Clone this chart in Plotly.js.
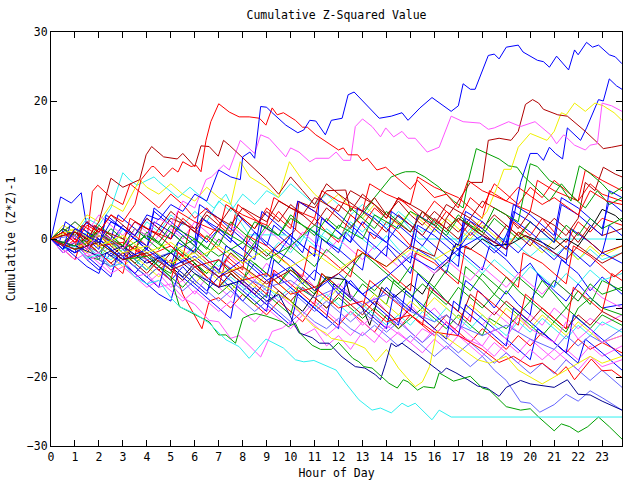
<!DOCTYPE html>
<html><head><meta charset="utf-8">
<script src="https://cdn.plot.ly/plotly-3.0.1.min.js"></script>
<style>html,body{margin:0;padding:0;background:#fff}#chart{width:640px;height:480px}</style>
</head><body><div id="chart"></div>
<script>
// ---- data: [hour, cumulative (Z*Z)-1] ----
const lineA = [[0,0],[0.5,-1.5],[1,1.5],[1.5,0.5],[2,-0.5],[2.5,2.5],[3,1.5],[3.5,0.5],[4,3.5],[4.5,2.8],[5,5],[5.5,4],[6,6.5],[6.5,5.5],[7,10],[7.5,9],[7.9,8.6],[8.0,11.9],[8.3,12.6],[8.5,11.7],[8.75,19.2],[9.0,19.1],[9.2,18.4],[9.8,16.5],[10.3,15.4],[10.55,15.8],[10.8,17.2],[11.05,17.1],[11.45,15.1],[11.7,17.2],[12.15,17.5],[12.4,20.9],[12.65,21.3],[13.7,17.5],[14.2,17.8],[14.65,18.3],[14.9,17.2],[15.4,19.0],[15.9,20.5],[16.7,18.5],[17.0,19.3],[17.2,22.5],[17.5,21.7],[17.7,21.7],[18.25,26.6],[18.5,26.8],[18.7,26.1],[19.0,27.8],[19.5,28.1],[19.7,27.1],[20.3,25.9],[20.55,25.7],[20.8,24.9],[21.1,26.5],[21.6,24.5],[21.85,27.4],[22.0,26.7],[22.35,28.5],[22.6,27.8],[22.85,28.1],[23.3,26.7],[23.55,26.4],[23.83,25.4]];
const lineB = [[0,0],[0.5,1],[1,-0.5],[1.5,2],[2,1],[2.5,3.5],[3,2.5],[3.5,5],[3.76,8.6],[4.2,10.5],[4.3,10.5],[4.7,9.0],[5.07,10.3],[5.3,9.7],[5.5,11.2],[5.85,10.5],[6.05,10.7],[6.26,9.75],[6.47,14.3],[6.67,17.0],[7.0,19.6],[7.44,18.4],[7.85,17.7],[8.27,17.7],[8.7,17.5],[8.97,16.5],[9.23,19.0],[9.44,18.0],[9.7,18.3],[10.2,17.2],[10.5,16.2],[10.7,16.2],[11.05,15.1],[11.7,13.6],[12.0,12.9],[12.2,13.2],[12.4,12.2],[12.8,12.2],[13.0,11.3],[13.2,11.7],[13.6,10.0],[13.97,10.4],[14.4,9.0],[15.0,7.2],[15.3,8.5],[16.0,6.0],[16.5,6.5],[17.0,4.5],[17.4,8.5],[18.0,7.0],[19,5.5],[19.5,7.5],[20.5,5],[21,6],[22,3.5],[22.5,7],[23.2,5.5],[23.83,5]];
const lineC = [[0,0],[0.5,-1],[1,1],[1.5,0],[2,2.5],[2.5,8.8],[3,7.5],[3.7,8.6],[3.97,12.2],[4.2,13.4],[4.7,11.9],[5.07,11.7],[5.27,11.6],[5.5,12.4],[6.0,10.5],[6.26,13.5],[6.6,13.4],[6.98,12.0],[7.2,14.3],[7.44,13.6],[8.97,8.6],[9.5,6.5],[10,9],[10.5,7],[11,5],[11.5,8],[12,6.5],[13,4],[13.5,6],[14,3.5],[15,1],[15.5,4],[16.5,1.5],[17,3],[18,0.5],[19,-1.5],[19.5,1],[20.5,-1],[21.5,-3],[22,-1],[23,-3.5],[23.83,-2]];
const lineD = [[0,0],[0.5,-1],[1,0.5],[1.5,-1.5],[2,1],[2.5,0],[3,-1.5],[3.5,1.5],[4,0.5],[4.5,3],[5,2],[5.5,5.5],[6,4.5],[6.47,8.6],[6.7,9.0],[7.2,10.7],[7.44,10.0],[7.9,14.3],[8.5,12.4],[8.75,15.1],[9.1,14.6],[9.8,11.9],[10.0,13.2],[10.35,12.6],[10.8,11.2],[11.05,11.7],[11.6,11.7],[11.9,12.6],[12.2,11.4],[12.5,11.4],[12.7,16.3],[13.0,17.4],[13.4,16.3],[13.75,14.8],[13.97,16.1],[14.3,14.8],[14.65,15.6],[14.9,14.6],[15.2,14.6],[15.7,12.6],[16.2,13.3],[16.7,17.8],[17.2,17.0],[17.9,16.8],[18.25,15.9],[18.5,16.1],[19.1,17.0],[19.6,16.3],[20.2,17.0],[20.85,15.1],[21.1,13.8],[21.4,15.1],[21.85,13.6],[22.3,12.9],[22.5,13.6],[22.8,13.8],[23.0,19.7],[23.4,19.3],[23.83,18.5]];
const lineE = [[0,0],[1,-1.5],[2,-0.5],[3,-3],[4,-2],[5,-4.5],[6,-3],[7,-5.5],[8,-4],[9,-6.5],[10,-4.5],[11,-7],[12,-5],[13,-2],[14,-4],[15,-1],[16,-2.5],[16.5,3],[17.0,5.5],[17.5,8.2],[18.0,8.2],[18.25,14.3],[18.7,14.6],[19.2,14.3],[19.5,15.6],[19.8,19.5],[20.1,20.2],[20.35,19.7],[20.55,18.8],[20.8,18.5],[21.15,18.0],[21.55,17.8],[22.0,16.5],[22.3,15.6],[22.7,14.3],[23.05,13.1],[23.4,13.3],[23.83,13.6]];
const lineF = [[0,0],[1,1.5],[2,-1],[3,0.5],[4,-2],[5,-0.5],[6,-3],[7,-1],[8,-3.5],[9,-1.5],[10,-4],[11,-2],[12,-4.5],[13,-2],[14,-4],[15,-1.5],[16,-3],[17,-1],[17.5,1],[18.2,4],[18.7,8.2],[18.9,10.1],[19.2,10.1],[19.5,13.3],[20.0,15.3],[20.7,14.3],[21.0,15.6],[21.3,18.3],[21.5,18.0],[21.85,19.7],[22.3,18.5],[22.7,19.7],[23.05,19.3],[23.5,18.3],[23.83,17.2]];
const lineG = [[0,0],[1,-2],[2,0],[3,-3],[4,-1.5],[5,-4],[6,-2.5],[7,-5.5],[8,-3],[9,-6],[10,-4],[11,-7.5],[12,-5],[13,-8],[14,-5.5],[15,-2.5],[16,-4.5],[17,-1.5],[18,0.5],[18.8,-1],[19.3,3],[19.6,8.2],[20.0,12.4],[20.3,12.4],[20.55,11.4],[20.8,13.3],[21.05,12.4],[21.35,11.6],[21.55,16.1],[21.85,15.1],[22.1,14.3],[22.35,16.1],[22.85,20.2],[23.05,20.0],[23.3,23.2],[23.6,22.2],[23.83,21.7]];
const lineH = [[0,0],[1,-1],[2,1],[3,-1.5],[4,0.5],[5,-2],[6,0],[7,-2.5],[8,-0.5],[9,-3],[10,-1],[11,2],[12,0],[13,3.5],[13.5,6],[14.2,9],[14.65,9.6],[14.8,9.75],[15.2,9.75],[15.6,9.0],[16.2,7.5],[16.8,5.5],[17.2,4.5],[17.4,8.2],[17.75,13.1],[18.2,12.4],[18.7,11.6],[19.1,10.6],[19.45,10.4],[19.7,9.2],[20.2,7.5],[20.8,5.5],[21.3,8],[21.8,6],[22.3,4.5],[22.8,7],[23.3,5],[23.83,6]];
const lineI = [[0,0],[0.5,1.5],[1,0.5],[1.5,-1],[2,1],[3,-1],[3.5,1.5],[4.5,-0.5],[5,2],[6,0],[6.5,-1.5],[7,1.5],[8,-0.5],[8.5,2.5],[9.5,0.5],[10,3],[11,1],[11.5,-0.5],[12,2],[13,0],[13.5,3.5],[14.5,1.5],[15,4],[16,2],[16.5,0.5],[17,3],[18,1],[18.5,4.5],[19.5,2.5],[20,10.9],[20.3,10.5],[20.8,8.5],[21.3,7.5],[21.7,5.5],[22.05,10.6],[22.5,9.5],[23,8],[23.4,6.5],[23.83,7.5]];
const lineJ = [[0,0],[0.5,-1.5],[1,-1],[1.5,-2.8],[2,-2.2],[2.5,-4],[3,-3.5],[3.5,-5.5],[4,-6.5],[4.5,-6],[5,-8.5],[5.36,-9.8],[6.0,-10.8],[6.6,-12.2],[7.3,-14.6],[7.85,-15.6],[8.27,-17.3],[8.97,-14.5],[9.7,-15.8],[10.2,-17.5],[10.55,-17.8],[10.97,-17.6],[11.9,-19.0],[12.3,-20.9],[12.85,-23.3],[13.4,-24.8],[13.75,-24.5],[14.2,-25.2],[14.65,-23.8],[14.9,-24.3],[15.2,-23.8],[15.9,-26.2],[16.2,-24.8],[16.7,-25.8],[23.83,-25.8]];
const lineK = [[0,0],[1,-1.5],[2,-0.5],[3,-3],[4,-2.5],[5,-5.5],[5.36,-9.8],[6.6,-12.0],[7.0,-13.9],[7.3,-13.9],[7.7,-15.1],[8.0,-11.5],[8.3,-11.0],[8.55,-10.8],[9.0,-11.2],[9.65,-12.0],[9.9,-12.7],[10.2,-12.2],[10.4,-13.7],[10.9,-15.4],[11.25,-16.0],[11.7,-16.0],[12.0,-15.0],[12.6,-17.3],[12.85,-17.8],[13.06,-18.5],[13.4,-18.7],[13.7,-19.7],[14.1,-20.9],[14.45,-21.6],[14.7,-20.4],[14.9,-20.7],[15.3,-21.9],[15.55,-21.4],[16.0,-21.6],[16.2,-19.4],[16.8,-20.6],[17.5,-19.9],[18.0,-21.6],[18.3,-21.9],[19.0,-24.3],[19.6,-24.8],[20.0,-24.6],[20.35,-25.8],[21.0,-27.8],[21.3,-26.8],[21.65,-27.2],[22.0,-28.0],[22.4,-27.2],[22.85,-25.8],[23.3,-27.2],[23.83,-29.0]];
const lineL = [[0,0],[1,-1],[2,-2.5],[3,-1],[4,-3.5],[5,-2],[6,-5],[7,-7],[8,-6],[9,-9],[9.5,-8],[10.35,-13.6],[10.9,-14.3],[11.2,-15.1],[11.6,-15.1],[12.15,-17.1],[12.7,-18.5],[13.1,-18.7],[13.55,-19.7],[13.75,-20.4],[13.97,-18.0],[14.2,-15.1],[14.4,-15.6],[14.65,-15.1],[15.2,-16.5],[15.5,-17.3],[16.3,-19.4],[16.5,-18.7],[16.9,-19.4],[17.4,-20.4],[17.8,-21.3],[18.2,-21.6],[18.7,-22.8],[19.0,-21.5],[19.6,-20.5],[20,-21],[21,-21.5],[21.55,-20.4],[22,-22.5],[22.5,-22.6],[23,-23.5],[23.83,-24.8]];
const lineM = [[0,0],[1,-1.5],[2,0.5],[3,-2],[4,-1],[5,-3.5],[6,-2],[7,-5],[8,-4],[9,-7],[10,-9],[10.5,-11],[10.97,-12.7],[11.45,-13.6],[11.7,-14.4],[12.0,-14.6],[12.65,-15.1],[13.1,-15.8],[13.55,-17.8],[14.0,-16.0],[14.5,-18.7],[14.85,-20.1],[15.2,-21.4],[15.5,-20.7],[15.8,-18.5],[16.1,-13.3],[16.6,-14.5],[17.2,-16],[17.8,-17.5],[18.3,-18],[19,-17],[19.5,-19],[20,-20],[20.5,-21],[21,-20],[21.5,-19],[22,-18],[22.5,-17],[23,-18],[23.83,-17]];
const lineN = [[0,0],[1,1],[2,-1],[3,-0.5],[4,-2.5],[5,-1],[6,-4],[7,-3],[8,-6],[9,-5],[10,-8],[11,-7],[12,-10],[13,-9],[14,-12],[15,-11],[16,-13.5],[17,-14],[18,-16],[18.7,-17.9],[19.3,-17],[20,-18.5],[20.5,-18],[21.15,-19.7],[21.5,-18.5],[21.85,-20.4],[22.55,-17.4],[23.0,-19.1],[23.4,-19],[23.83,-20.1]];
const lineP = [[0,0],[0.5,-1],[1,-0.5],[1.5,-2.5],[2,-2],[2.5,-4],[3,-3.5],[3.5,-5.5],[4,-5],[4.5,-7],[5,-6.5],[5.5,-8.5],[6,-9.5],[6.6,-11.8],[7.0,-12.0],[7.5,-14.4],[7.85,-14],[8.75,-17.1],[9.23,-13.4],[9.65,-12.9],[10,-12],[10.5,-14],[11,-13],[11.5,-15.5],[12,-14],[12.5,-16],[13,-13.5],[13.5,-15],[14,-12.5],[15,-15],[15.5,-13],[16,-14],[16.5,-12],[17,-14],[18,-15.5],[18.5,-13],[19,-14.5],[19.5,-11],[20,-13],[21,-15],[21.5,-12],[22,-14.5],[22.5,-13],[23,-15],[23.83,-14]];
const lineQ = [[0,0],[1,1],[1.5,-0.5],[2,1.5],[3,0],[3.5,2.5],[4.5,0.5],[5,3],[6,1.5],[6.5,4],[7.5,2],[8,4.5],[9,2.5],[9.5,5.5],[10.5,3.5],[11,6],[12,4],[12.5,7],[13.5,5],[14,3],[14.5,6],[15.5,4],[16,2],[16.5,5],[17.5,3],[18,5.5],[19,3.5],[19.5,1.5],[20,4],[21,2],[21.5,0.5],[22,3],[22.3,8.2],[22.7,7],[23.05,10.4],[23.55,9.4],[23.83,9]];
const lineR = [[0,0],[0.5,-1],[1,-2],[1.5,-1],[2,-3],[2.5,-4],[3,-2.5],[3.5,-4],[4,-5.5],[4.5,-4],[5,-6],[5.5,-7.5],[6,-6],[6.5,-7.5],[7,-9],[7.5,-7.5],[8,-9],[8.5,-10.5],[9,-9],[9.5,-10.5],[10,-12],[10.5,-10.5],[11,-12],[11.5,-13],[12,-11.5],[12.5,-13],[13,-14],[13.5,-12.5],[14,-14],[14.5,-15.5],[15,-14],[15.5,-15.5],[16,-17],[16.5,-15.5],[17,-17],[17.5,-18.5],[18,-17],[18.5,-19],[19,-20.5],[19.6,-23.6],[20,-23.8],[20.4,-25.1],[21,-24],[21.5,-22.5],[22,-23.5],[22.5,-22],[23,-23],[23.83,-24.8]];
const lineS = [[0,0],[1,0.5],[1.5,-1],[2,-2],[2.5,-0.5],[3,-1.5],[3.5,-3],[4,-1.5],[4.5,-3],[5,-4.5],[5.5,-3],[6,-4.5],[6.5,-6],[7,-4.5],[7.5,-6],[8,-7.5],[8.5,-6],[9,-7.5],[9.5,-9],[10,-7.5],[10.5,-9],[11,-10.5],[11.5,-9],[12,-10.5],[12.5,-12],[13,-10.5],[13.5,-12],[14,-13.5],[14.5,-12],[15,-13.5],[15.5,-15],[16,-13.5],[16.5,-15],[17,-16.5],[17.5,-15],[18,-16.5],[18.5,-18],[19,-16.5],[19.5,-18],[20,-19.5],[20.5,-18],[21,-19.5],[21.5,-17.5],[22,-19],[22.5,-20.5],[23,-19],[23.83,-21.5]];
const lineT = [[0,0],[1,-1],[2,0.5],[3,-1.5],[4,-3],[5,-2],[6,-4],[7,-3],[8,-5.5],[9,-7],[10,-6],[11,-8.5],[12,-7],[13,-9.5],[14,-8],[15,-10.5],[16,-12],[16.5,-11],[17,-12.5],[18,-14],[19,-12.5],[20,-14.5],[21,-16],[21.5,-14],[22,-15.5],[22.5,-14],[23,-15],[23.83,-13]];
const clu01 = [[0,0],[0.4,6.1],[0.85,5.2],[1.26,6.7],[1.47,2.3],[2,1.5],[2.5,0],[2.8,3.5],[3.5,1.5],[4,0],[4.3,4],[5,2],[5.5,0.5],[6,-1],[6.3,3],[7,1],[7.5,-0.5],[7.8,3.5],[8.5,1],[9,-1],[9.3,2],[10,0],[10.5,-2],[10.8,1.5],[11.5,-0.5],[12,-2],[12.3,1],[13,-1.5],[13.5,-3],[14,-1],[14.5,-3],[15,-5],[15.3,-1.5],[16,-3],[16.5,-5],[16.8,-1],[17.5,-3],[18,-4.5],[18.3,-1],[19,-3],[19.5,-5],[20,-3.5],[20.5,-6],[21,-7],[21.3,-3],[22,-5],[22.5,-7.5],[23,-5.5],[23.83,-8]];
const clu02 = [[0,0],[0.5,-1],[1,1.5],[1.5,0],[1.73,6.9],[1.95,7.8],[2.5,6],[3,5],[3.3,8],[4,6],[4.5,4.5],[5,6.5],[5.5,5],[6,3],[6.5,4.5],[7,2.5],[7.5,1],[7.8,5],[8.5,3],[9,1.5],[9.5,4],[10,2],[10.5,0.5],[11,3],[11.5,1],[12,-0.5],[12.5,3.5],[13,2],[13.5,0],[14,2.5],[14.5,1],[15,-1],[15.3,3.5],[16,1.5],[16.5,4],[17,2.5],[17.5,0.5],[18,2.5],[18.5,1],[19,-1],[19.3,2.5],[20,0.5],[20.5,3],[21,1],[21.5,-0.5],[22,2.5],[22.5,1],[23,3],[23.83,2]];
const clu03 = [[0,0],[0.5,-1.5],[1,-0.5],[1.5,-2.5],[2,-3],[2.3,0],[3,-2],[3.5,-3.5],[4,-2],[4.5,-4],[5,-5],[5.3,-1.5],[6,-3.5],[6.5,-5],[7,-3],[7.5,-5],[8,-6.5],[8.3,-3],[9,-5],[9.5,-6.5],[10,-4],[10.5,-6.5],[11,-8],[11.3,-5],[12,-7.5],[12.5,-9],[13,-6.5],[13.5,-8],[14,-9.5],[14.3,-6],[15,-8],[15.5,-10],[16,-7],[16.5,-9],[17,-10.5],[17.3,-4],[18,-6],[18.5,-8],[19,-5.5],[19.5,-7.5],[20,-9],[20.5,-6],[21,-8],[21.5,-10],[22,-7.5],[22.5,-9.5],[23,-6],[23.83,-7.5]];
const clu04 = [[0,0],[0.5,1],[1,-0.5],[1.5,2.5],[2,1],[2.5,-0.5],[3,1.5],[3.5,0],[4,-1.5],[4.5,0.5],[5,-1],[5.5,-2.5],[6,-1],[6.5,-3],[7,-4.5],[7.5,-2.5],[8,-4],[8.5,-6],[9,-3.5],[9.5,-5.5],[10,-7],[10.5,-5],[11,-7],[11.5,-8.5],[12,-6.5],[12.5,-8],[13,-10],[13.5,-8.5],[14,-10.5],[14.5,-12],[15,-9.5],[15.5,-11.5],[16,-10],[16.5,-12],[17,-13.5],[17.5,-11],[18,-12.5],[18.5,-10.5],[19,-12],[19.5,-13.5],[20,-11],[20.5,-12.5],[21,-10],[21.5,-11.5],[22,-13],[22.5,-11.5],[23,-12.5],[23.83,-11]];
const clu05 = [[0,0],[0.5,1.5],[1,0.5],[1.5,3],[2,2],[2.5,4.5],[3,9.6],[3.3,8.5],[3.6,7.8],[4.3,9.0],[4.5,8.3],[4.9,7.1],[5.3,6],[5.8,7.5],[6.3,6],[6.8,4.5],[7.3,6.5],[7.8,3],[8.27,0.6],[9.8,0.6],[10.3,-1],[10.8,1.5],[11.5,0],[12,-1.5],[12.5,1.5],[13,0],[13.5,-1.5],[14,0.5],[14.5,-1.5],[15,-3],[15.5,-1],[16,-2.5],[16.5,-4],[17,-2],[17.5,-3.5],[18,-5],[18.5,-3],[19,-4.5],[19.5,-6],[20,-4],[20.5,-5.5],[21,-7],[21.5,-5],[22,-6.5],[22.5,-4.5],[23,-6],[23.83,-5]];
const clu06 = [[0,0],[0.5,-1],[1,0.5],[1.5,-1],[2,-2.5],[2.5,-1],[3,-2.5],[3.5,-4],[4,-2],[4.5,-3.5],[5,-1.5],[5.5,-3],[6,-1],[6.5,-2.5],[7,-4],[7.5,-2],[8,-3.5],[8.5,-1],[9,-2.5],[9.5,-0.5],[10,-2],[10.5,0.5],[11,-1],[11.5,1.5],[12,0],[12.5,2.5],[13,1],[13.5,3],[14,1.5],[14.5,3.5],[15,1.5],[15.35,0],[23.83,0]];
const clu07 = [[0,0],[1,-1],[1.5,1],[2,0],[2.5,-1.5],[3,1.5],[3.5,0],[4,2.5],[4.5,1],[5,3.5],[5.5,2],[6,4],[6.5,2.5],[7,5.5],[7.5,4],[8,6.5],[8.5,5],[9,7],[9.5,6],[10,8],[10.5,6.5],[11,5],[11.5,6.5],[12,5],[12.5,3.5],[13,5],[13.5,3.5],[14,2],[14.5,4],[15,2.5],[15.5,1],[16,2.5],[16.5,1],[17,-0.5],[17.5,1.5],[18,0],[18.5,-1.5],[19,0.5],[19.5,-1],[20,-2.5],[20.5,-1],[21,-2.5],[21.5,-1],[22,-3],[22.5,-1.5],[23,-3],[23.83,-2]];
const clu08 = [[0,0],[0.5,2],[1,1],[1.5,3.5],[2,2.5],[2.5,5],[3,4],[3.7,8.6],[4,7.5],[4.5,6.5],[5,8],[5.5,6.5],[6,5.5],[6.5,7.5],[7,6],[7.5,5],[7.9,11.2],[8.3,9],[9,7.5],[9.5,6],[9.95,11.2],[10.5,8.5],[11,6.5],[11.5,5],[12,6.5],[12.5,4.5],[13,3],[13.5,5],[14,3.5],[14.5,2],[15,4],[15.5,2.5],[16,1],[16.5,3],[17,1.5],[17.5,0],[18,2],[18.5,0.5],[19,-1],[19.5,1],[20,-0.5],[20.5,-2],[21,0],[21.5,-1.5],[22,-3],[22.5,-1],[23,-2.5],[23.83,-1]];
const clu09 = [[0,0],[1,-1.5],[1.5,0.5],[2,-1],[2.5,-2.5],[3,-1],[3.5,-3],[4,-4.5],[4.5,-2.5],[5,-4],[5.5,-5.5],[6,-3.5],[6.5,-5.5],[7,-7],[7.5,-5],[8,-6.5],[8.5,-8],[9,-9.5],[9.5,-7.5],[10,-9],[10.5,-10.5],[11,-8],[11.5,-5.5],[12.3,-5.9],[12.5,-8.5],[13,-10],[13.3,-12.5],[13.8,-7],[14.3,-8.5],[15,-6.5],[15.5,-8],[16,-5],[16.6,-3.2],[16.9,-0.7],[17.5,-1.5],[18,0],[18.5,-1],[19.2,-0.7],[19.8,0.5],[20.5,-0.5],[21,-1.5],[21.5,0],[22,-1],[22.4,1],[22.7,2.5],[23.0,4.3],[23.55,3.4],[23.83,2.5]];
const clu10 = [[0,0],[0.5,-1],[1,0.5],[1.5,-1.5],[2,0],[2.5,-1.5],[3,-3],[3.5,-1],[4,-2.5],[4.5,-4],[5,-2],[5.5,-3.5],[6,-1.5],[6.5,-3],[7,-4.5],[7.5,-2],[8,-3.5],[8.5,-1],[9,-2.5],[10.2,1.3],[10.35,5.4],[11,4.5],[11.5,7],[12.3,7.1],[12.5,4],[13,6.5],[13.5,5],[14,3.5],[14.5,5.5],[15,3.5],[15.5,2],[16,4],[16.5,2.5],[17,1],[17.5,3],[18,1.5],[18.5,3.5],[19,2],[19.5,0.5],[20,2.5],[20.5,1],[21,3],[21.5,1.5],[22,-0.5],[22.5,2],[23,0.5],[23.83,1.5]];
const clu11 = [[0,0],[0.5,-2],[1,-1],[1.5,-3],[2,-4.5],[2.5,-2],[3,-3.5],[3.5,-5],[4,-3],[4.5,-4.5],[5,-6],[5.5,-4],[6,-6],[6.5,-7.5],[7,-5.5],[7.5,-7],[8,-9],[8.5,-7],[9,-8.5],[9.3,-3],[10,-5],[10.5,-6.5],[11,-4.5],[11.5,-6],[12,-8],[12.5,-6],[13,-8],[13.5,-9.5],[14,-7],[14.5,-9],[15,-10.5],[15.3,-5],[16,-7.5],[16.5,-9],[17,-10.5],[17.3,-6],[18,-8],[18.5,-10],[19,-7.5],[19.5,-9.5],[20,-11],[20.3,-5],[21,-7.5],[21.5,-9],[22,-6.5],[22.5,-8.5],[23,-10],[23.83,-9.5]];
const clu12 = [[0,0],[0.5,1],[1,-0.5],[1.5,-2],[2,0.5],[2.5,-1],[3,-2.5],[3.5,-1],[4,-3],[4.5,-4.5],[5,-3],[5.5,-8],[6.0,-11],[6.3,-13],[6.6,-9],[7,-8.5],[7.5,-10],[8,-8],[8.5,-9.5],[9,-11],[9.5,-9],[10,-10.5],[10.5,-12],[11,-9.5],[11.5,-11],[12,-12.5],[12.5,-10.5],[13,-12],[13.5,-13.5],[14,-11],[14.5,-13],[15,-11],[15.5,-12.5],[16,-14],[16.5,-12],[17,-13.5],[17.5,-15],[18,-13],[18.5,-14.5],[19,-16],[19.5,-14],[20,-15.5],[20.5,-13.5],[21,-15],[21.5,-16.5],[22,-14.5],[22.5,-16],[23,-15],[23.83,-16.5]];
const clu13 = [[0,0],[0.5,-0.5],[1,1],[1.5,-0.5],[2,-2],[2.5,0],[3,-1.5],[3.5,-3],[4,-1],[4.5,-2.5],[5,-4],[5.5,-2],[6,-3.5],[6.5,-5],[7,-3],[7.5,-4.5],[8,-6],[8.5,-3.5],[9,-5],[9.5,-6.5],[10,-4.5],[10.5,-6],[11,-7.5],[11.5,-5.5],[12,-7],[12.5,-4.5],[13,-6],[13.5,-7.5],[14,-5.5],[14.5,-7],[15,-8.5],[15.5,-6.5],[16,-8],[16.5,-9.5],[17,-7],[17.5,-8.5],[18,-10],[18.5,-8],[19,-9.5],[19.5,-11],[20,-9],[20.5,-10.5],[21,-12],[21.5,-10],[22,-11.5],[22.5,-13],[23,-11],[23.83,-12.5]];
const clu14 = [[0,0],[0.5,-2],[1,-1],[1.5,-3],[2,-2.5],[2.5,-4.5],[3,-3],[3.5,-5],[4,-6.5],[4.5,-5],[5,-7],[5.5,-6],[6,-8],[6.5,-5.5],[7,-7],[7.5,-8.5],[8,-6],[8.5,-8],[9,-9.5],[9.5,-8],[10,-9.5],[10.5,-11],[11,-9],[11.5,-10.5],[12,-12],[12.5,-10.5],[13,-12.5],[13.5,-11],[14,-13],[14.5,-11.5],[15,-13.5],[15.5,-15],[16,-13],[16.5,-14.5],[17,-12.5],[17.5,-14],[18,-15.5],[18.5,-17],[19,-15],[19.5,-16.5],[20,-14.5],[20.5,-16],[21,-17.5],[21.5,-16],[22,-17.5],[22.5,-15.5],[23,-17],[23.83,-15.5]];
const clu15 = [[0,0],[0.5,-1.5],[1,0],[1.5,-1],[2,1.5],[2.5,0],[3,-1.5],[3.5,0.5],[4,-1],[4.5,1.5],[5,0],[5.5,3],[6,1.5],[6.5,0],[7,2],[7.5,0.5],[8,3],[8.5,1.5],[9,4.5],[9.5,3],[10,1.5],[10.3,5.5],[11,4],[11.5,2.5],[12,5],[12.5,3.5],[13,2],[13.5,4.5],[14,3],[14.5,6],[15,4.5],[15.5,3],[16,5.5],[16.5,4],[17,2.5],[17.5,6],[18,4.5],[18.5,8],[19,6.5],[19.5,5],[20,7.5],[20.5,6],[21,8.5],[21.5,7],[22,5.5],[22.5,8],[23,6.5],[23.83,5.5]];
const clu16 = [[0,0],[0.5,1.5],[1,0],[1.5,2.5],[2,1],[2.5,-0.5],[3,2],[3.5,0.5],[4,3],[4.5,1.5],[5,0],[5.5,2.5],[6,1],[6.5,-0.5],[7,1.5],[7.5,0],[8,-1.5],[8.5,1],[9,-0.5],[9.5,-2],[10,0.5],[10.5,-1],[11,-2.5],[11.3,3],[12,1],[12.5,-0.5],[13,2.5],[13.5,1],[14,-0.5],[14.5,2],[15,0.5],[15.5,-1],[16,1.5],[16.5,0],[17,-1.5],[17.5,1],[18,-0.5],[18.5,-2],[19,-0.5],[19.5,-2],[20,0],[20.5,-1.5],[21,-3],[21.5,-1],[22,-2.5],[22.5,-4],[23,-2],[23.83,-3.5]];
const clu17 = [[0,0],[1,-2],[1.5,-1],[2,-3],[2.5,-4],[3,-2.5],[3.5,-4],[4,-5.5],[4.5,-4],[5,-5.5],[5.5,-7],[6,-5],[6.5,-6.5],[7,-8],[7.5,-6.5],[8,-8],[8.5,-9.5],[9,-8],[9.5,-9.5],[10,-11],[10.3,-7],[11,-8.5],[11.5,-10],[12,-8.5],[12.5,-10],[13,-11.5],[13.5,-10],[14,-11.5],[14.5,-13],[15,-11.5],[15.5,-10],[16,-11.5],[16.5,-13],[17,-11],[17.5,-12.5],[18,-14],[18.3,-11.5],[19,-13],[19.5,-11],[20,-12.5],[20.5,-14],[21,-12],[21.5,-13.5],[22,-10],[22.5,-8.5],[23,-10],[23.83,-11]];
const clu18 = [[0,0],[0.5,1],[1,2.5],[1.5,1],[2,3.5],[2.5,2],[3,0.5],[3.5,2.5],[4,1],[4.5,-0.5],[5,1.5],[5.5,0],[6,2.5],[6.5,1],[7,-0.5],[7.5,2],[8,0.5],[8.5,-1],[9,1.5],[9.5,0],[10,-1.5],[10.5,1],[11,-0.5],[11.5,-2],[12,0],[12.5,-1.5],[13,-3],[13.5,-1],[14,-2.5],[14.5,-4],[15,-2],[15.5,-3.5],[16,-5],[16.5,-3],[17,-4.5],[17.5,-6],[18,-4],[18.5,-5.5],[19,-7],[19.5,-5],[20,-6.5],[20.5,-8],[21,-6],[21.5,-7.5],[22,-9],[22.5,-7],[23,-8.5],[23.83,-10]];
const clu19 = [[0,0],[0.5,-1],[1,-2],[1.5,-0.5],[2,-2],[2.5,-3],[3,-1.5],[3.5,-3],[4,-4.5],[4.5,-3],[5,-4.5],[5.5,-6],[6,-4],[6.5,-5.5],[7,-7],[7.5,-5.5],[8,-7],[8.5,-8.5],[9,-7],[9.5,-8.5],[10,-7],[10.5,-8.5],[11,-10],[11.5,-8],[12,-9.5],[12.5,-11],[13,-9.5],[13.5,-11],[14,-12.5],[14.5,-11],[15,-12.5],[15.5,-10.5],[16,-12],[16.5,-10],[17,-11.5],[17.5,-13],[18,-11],[18.5,-12.5],[19,-14],[19.5,-12],[20,-13.5],[20.5,-11.5],[21,-13],[21.5,-14.5],[22,-12.5],[22.5,-14],[23,-12],[23.83,-13.5]];
const clu20 = [[0,0],[0.5,-1.5],[1,-0.5],[1.5,-2],[2,-1],[2.5,-2.5],[3,-4],[3.5,-2.5],[4,-4],[4.5,-5.5],[5,-3.5],[5.5,-5],[6,-6.5],[6.5,-4.5],[7,-6],[7.5,-7.5],[8,-5.5],[8.5,-7],[9,-5],[9.5,-6.5],[10,-8],[10.5,-6],[11,-7.5],[11.5,-9],[12,-7],[12.5,-8.5],[13,-10],[13.5,-8],[14,-9.5],[14.5,-11],[15,-9],[15.5,-10.5],[16,-8.5],[16.5,-10],[17,-11.5],[17.5,-9.5],[18,-11],[18.5,-12.5],[19,-10],[19.5,-11.5],[20,-13],[20.5,-11],[21,-12.5],[21.5,-14],[22,-12],[22.5,-13.5],[23,-15],[23.83,-14]];
const clu21 = [[0,0],[0.5,-1],[1,-2],[1.5,-0.5],[2,-2],[2.5,-3.5],[3,-2],[3.5,-3.5],[4,-5],[4.5,-3],[5,-4.5],[5.5,-6],[6,-4],[6.5,-5.5],[7,-7],[7.5,-5],[8,-6.5],[8.5,-8],[9,-6],[9.5,-7.5],[10,-9],[10.5,-7],[11,-8.5],[11.5,-10],[12,-8],[12.5,-9.5],[13,-11],[13.5,-9],[14,-10.5],[14.5,-12],[15,-10],[15.5,-11.5],[16,-13],[16.5,-11],[17,-12.5],[17.5,-8],[18,-9.5],[18.5,-11],[19,-9],[19.5,-10.5],[20,-12],[20.5,-10],[21,-11.5],[21.5,-13],[22,-11],[22.5,-12.5],[23,-10.5],[23.83,-12]];
const clu22 = [[0,0],[0.3,-1],[0.6,2.5],[1,1.5],[1.5,0],[2,-1.5],[2.3,3.5],[3,1.5],[3.5,0],[4,-1.5],[4.3,4.5],[5,2.5],[5.5,1],[6,-0.5],[6.2,5],[7,3],[7.5,1.5],[8,0],[8.5,-1.5],[8.8,4],[9.5,2],[10,0.5],[10.5,-1],[11,-2.5],[11.2,6],[12,3.5],[12.5,2],[13,0.5],[13.5,-1],[14,-2.5],[14.2,4],[15,2],[15.5,0.5],[16,-1],[16.5,-2.5],[17,-4],[17.2,2.5],[18,0.5],[18.5,-1],[19,-2.5],[19.2,3],[20,1],[20.5,-0.5],[21,-2],[21.5,-3.5],[21.7,1.5],[22.5,-0.5],[23,-2],[23.3,2],[23.83,0.5]];
const clu23 = [[0,0],[0.5,-1.5],[1,-3],[1.3,0],[2,-2],[2.5,-3.5],[3,-5],[3.3,-1],[4,-3],[4.5,-4.5],[5,-6],[5.3,-2],[6,-4],[6.5,-5.5],[7,-7],[7.3,-3],[8,-5],[8.5,-6.5],[9,-8],[9.3,-4.5],[10,-6.5],[10.5,-8],[11,-9.5],[11.3,-5],[12,-7],[12.5,-8.5],[13,-10],[13.3,-6],[14,-8],[14.5,-9.5],[15,-11],[15.5,-12.5],[15.8,-7],[16.5,-9],[17,-10.5],[17.5,-12],[17.8,-7.5],[18.5,-9.5],[19,-11],[19.5,-12.5],[19.8,-8],[20.5,-10],[21,-11.5],[21.5,-13],[21.8,-7],[22.5,-9],[23,-10.5],[23.4,-5],[23.83,-6]];
const clu24 = [[0,0],[0.5,-1.5],[1,-0.5],[1.5,-2.5],[2,-4],[2.5,-5.5],[2.8,-2],[3.5,-4],[4,-5.5],[4.5,-7],[4.8,-3],[5.5,-5],[6,-6.5],[6.5,-8],[6.8,-4],[7.5,-6],[8,-7.5],[8.5,-9],[9,-10.5],[9.3,-5],[10,-7],[10.5,-8.5],[11,-10],[11.5,-11.5],[11.8,-6.5],[12.5,-8.5],[13,-10],[13.5,-11.5],[14,-13],[14.3,-8],[15,-10],[15.5,-11.5],[16,-13],[16.5,-14.5],[16.8,-9],[17.5,-11],[18,-12.5],[18.5,-14],[19,-15.5],[19.3,-10],[20,-12],[20.5,-13.5],[21,-15],[21.5,-16.5],[21.8,-11],[22.5,-13],[23,-14.5],[23.5,-16],[23.83,-17]];
const clu25 = [[0,0],[0.5,1],[1,0],[1.5,-1.5],[1.8,2],[2.5,0.5],[3,-1],[3.5,-2.5],[3.8,2],[4.5,0.5],[5,-1],[5.5,-2.5],[5.8,1.5],[6.5,0],[7,-1.5],[7.5,-3],[8,-4.5],[8.2,0.5],[9,-1],[9.5,-2.5],[10,-4],[10.5,-5.5],[10.8,-1],[11.5,-2.5],[12,-4],[12.5,-5.5],[12.8,-1.5],[13.5,-3],[14,-4.5],[14.5,-6],[15,-7.5],[15.2,-2],[16,-3.5],[16.5,-5],[17,-6.5],[17.3,-1],[18,-2.5],[18.5,-4],[19,-5.5],[19.5,-7],[19.7,-2],[20.5,-3.5],[21,-5],[21.5,-6.5],[21.8,-1],[22.5,-2.5],[23,-4],[23.5,-5.5],[23.83,-4.5]];
const clu26 = [[0,0],[0.5,-1],[1,-2.5],[1.5,-4],[2,-5],[2.3,-2],[3,-3.5],[3.5,-5],[4,-6.5],[4.5,-8],[5,-9],[5.3,-5],[6,-7],[6.5,-8.5],[7,-10],[7.5,-11.5],[7.8,-6],[8.5,-8],[9,-9.5],[9.5,-11],[10,-12.5],[10.3,-8],[11,-10],[11.5,-11.5],[12,-13],[12.3,-6],[13,-8],[13.5,-9.5],[14,-11],[14.5,-12.5],[14.8,-7.5],[15.5,-9.5],[16,-11],[16.5,-12.5],[17,-14],[17.3,-9.5],[18,-11.5],[18.5,-13],[19,-14.5],[19.5,-16],[20,-17.5],[20.3,-13],[21,-15],[21.5,-16.5],[22,-18],[22.3,-14.5],[23,-16.5],[23.83,-19]];
const clu27 = [[0,0],[0.5,-1.5],[1,-3],[1.5,-2],[2,-3.5],[2.5,-5],[3,-4],[3.5,-5.5],[4,-7],[4.5,-6],[5,-7.5],[5.5,-9],[6,-7.5],[6.5,-9],[7,-10.5],[7.5,-9],[8,-10.5],[8.5,-12],[9,-10],[9.5,-11.5],[10,-13],[10.5,-11],[11,-12.5],[11.5,-14],[12,-12.5],[12.5,-14],[13,-12],[13.5,-13.5],[14,-15],[14.5,-13.5],[15,-15],[15.5,-16.5],[16,-14.5],[16.5,-16],[17,-14],[17.5,-15.5],[18,-17],[18.5,-15],[19,-16.5],[19.5,-18],[20,-16],[20.5,-17.5],[21,-16],[21.5,-17.5],[22,-19],[22.5,-17],[23,-18.5],[23.83,-17.5]];
const clu28 = [[0,0],[0.5,1],[1,2.5],[1.5,1],[2,-0.5],[2.5,1.5],[3,0],[3.5,-1.5],[4,1],[4.5,-0.5],[5,-2],[5.5,0.5],[6,-1],[6.5,-2.5],[7,0],[7.5,-1.5],[8,-3],[8.5,-0.5],[9,-2],[9.5,-3.5],[10,-1],[10.5,-2.5],[11,-4],[11.5,-1.5],[12,-3],[12.5,-4.5],[13,-2],[13.5,-3.5],[14,-5],[14.5,-6.5],[15,-4],[15.5,-5.5],[16,-7],[16.5,-4.5],[17,-6],[17.5,-7.5],[18,-5],[18.5,-6.5],[19,-8],[19.5,-5.5],[20,-7],[20.5,-8.5],[21,-6],[21.5,-7.5],[22,-9],[22.5,-6.5],[23,-8],[23.83,-7]];
const clu29 = [[0,0],[1,-1],[1.3,2],[2,0.5],[3,-1],[3.3,3],[4,1.5],[5,0],[5.3,4],[6,2.5],[7,1],[7.3,5],[8,3.5],[9,2],[9.3,6],[10,4.5],[11,3],[11.3,7],[12,5.5],[13,4],[13.3,8],[14,6.5],[15,5],[15.3,9],[16,7.5],[17,6],[17.5,4.5],[18,3],[18.3,7],[19,5.5],[20,4],[20.3,8.5],[21,7],[22,5.5],[22.3,10],[23,8.5],[23.83,7]];
const clu30 = [[0,0],[0.5,-1.5],[0.8,2],[1.5,0.5],[2,-1],[2.3,3],[3,1.5],[3.5,0],[4,-1.5],[4.3,2.5],[5,1],[5.5,-0.5],[6,-2],[6.3,3],[7,1.5],[7.5,0],[8,-1.5],[8.5,-3],[8.8,2],[9.5,0.5],[10,-1],[10.3,5.5],[11,4],[11.5,2.5],[12,1],[12.5,-0.5],[12.8,4.5],[13.5,3],[14,1.5],[14.5,0],[15,-1.5],[15.3,3.5],[16,2],[16.5,0.5],[17,-1],[17.3,4],[18,2.5],[18.5,1],[19,-0.5],[19.3,5],[20,3.5],[20.5,2],[21,0.5],[21.3,6],[22,4.5],[22.5,3],[23,1.5],[23.3,5.5],[23.83,4]];
const clu31 = [[0,0],[1,1],[1.5,-0.5],[2,2],[2.5,0.5],[3,-1],[3.5,1.5],[4,0],[4.5,-1.5],[5,1],[5.5,-0.5],[6,-2],[6.5,0.5],[7,-1],[7.5,2.5],[8,1],[8.5,-0.5],[9,2],[9.5,0.5],[10,3.5],[10.5,2],[11,0.5],[11.5,3],[12,1.5],[12.5,4.5],[13,3],[13.5,1.5],[14,4],[14.5,2.5],[15,1],[15.5,4],[16,2.5],[16.5,1],[17,3.5],[17.5,2],[18,0.5],[18.5,3],[19,1.5],[19.5,0],[20,2.5],[20.5,1],[21,-0.5],[21.5,2],[22,0.5],[22.5,3],[23,1.5],[23.83,3]];
const clu32 = [[0,0],[0.5,1.5],[1,0.5],[1.5,2.5],[2,1],[2.5,3.5],[3,2],[3.5,0.5],[4,3],[4.5,1.5],[5,4],[5.5,2.5],[6,1],[6.5,3.5],[7,2],[7.5,4.5],[8,3],[8.5,1.5],[9,4],[9.5,2.5],[10,5],[10.5,3.5],[11,2],[11.5,4.5],[12,3],[12.5,1.5],[13,4],[13.5,2.5],[14,1],[14.5,3.5],[15,2],[15.5,0.5],[16,3],[16.5,1.5],[17,0],[17.5,2.5],[18,1],[18.5,-0.5],[19,2],[19.5,0.5],[20,-1],[20.5,1.5],[21,0],[21.5,-1.5],[22,1],[22.5,-0.5],[23,-2],[23.83,-1]];
const clu33 = [[0,0],[0.5,-1],[1,-2],[1.3,1.5],[2,0],[2.5,-1.5],[3,-3],[3.3,0.5],[4,-1],[4.5,-2.5],[5,-4],[5.3,-0.5],[6,-2],[6.5,-3.5],[7,-5],[7.3,-1],[8,-2.5],[8.5,-4],[9,-5.5],[9.3,-1.5],[10,-3],[10.5,-4.5],[11,-6],[11.3,0],[12,-1.5],[12.5,-3],[13,-4.5],[13.3,1],[14,-0.5],[14.5,-2],[15,-3.5],[15.3,2],[16,0.5],[16.5,-1],[17,-2.5],[17.3,3],[18,1.5],[18.5,0],[19,-1.5],[19.3,4],[20,2.5],[20.5,1],[21,-0.5],[21.3,5],[22,3.5],[22.5,2],[23,0.5],[23.3,7],[23.83,6]];

const BLUE='#0000ff', RED='#ff0000', GREEN='#00a000', MAGENTA='#ff55ff', CYAN='#30f0f0', YELLOW='#f0f000', BLACK='#000000', DKRED='#b00000', PERI='#6464ff', NAVY='#000090';

const series = [
  [clu01,BLUE],[clu02,RED],[clu03,GREEN],[clu04,MAGENTA],[clu05,CYAN],[clu06,CYAN],[clu07,CYAN],[clu08,YELLOW],
  [clu09,BLACK],[clu10,DKRED],[clu11,BLUE],[clu12,RED],[clu13,GREEN],[clu14,MAGENTA],[clu15,RED],[clu16,BLUE],
  [clu17,GREEN],[clu18,MAGENTA],[clu19,CYAN],[clu20,YELLOW],[clu21,DKRED],[clu22,BLUE],[clu23,RED],[clu24,BLUE],
  [clu25,RED],[clu26,BLUE],[clu27,MAGENTA],[clu28,GREEN],[clu29,RED],[clu30,BLUE],[clu31,GREEN],[clu32,DKRED],[clu33,BLUE],
  [lineR,PERI],[lineS,PERI],[lineT,PERI],[lineP,MAGENTA],[lineN,RED],[lineM,YELLOW],[lineL,NAVY],[lineK,GREEN],[lineJ,CYAN],
  [lineQ,DKRED],[lineI,GREEN],[lineH,GREEN],[lineG,BLUE],[lineF,YELLOW],[lineE,DKRED],[lineD,MAGENTA],[lineC,DKRED],[lineB,RED],[lineA,BLUE]
];

const hourTicks = [0,1,2,3,4,5,6,7,8,9,10,11,12,13,14,15,16,17,18,19,20,21,22,23];
const valueTicks = [-30,-20,-10,0,10,20,30];

const traces = series.map(([pts,col]) => ({
  x: pts.map(p=>p[0]), y: pts.map(p=>p[1]),
  type:'scatter', mode:'lines', line:{color:col, width:1}, hoverinfo:'skip', showlegend:false
}));

const FONT = 'DejaVu Sans Mono, monospace';
const layout = {
  width:640, height:480,
  margin:{l:51, r:18, t:32, b:34},
  paper_bgcolor:'#ffffff', plot_bgcolor:'#ffffff',
  font:{family:FONT, size:11, color:'#000'},
  title:{text:'Cumulative Z-Squared Value', font:{family:FONT, size:11.5, color:'#000'}, x:0.5, xref:'paper', y:1-15/480, yanchor:'middle'},
  xaxis:{range:[0,23.83], tickvals:hourTicks, ticktext:hourTicks.map(String), ticks:'inside', ticklen:6, tickcolor:'#000',
         showline:true, linecolor:'#000', linewidth:1, mirror:'allticks', showgrid:false, zeroline:false,
         title:{text:'Hour of Day', font:{family:FONT, size:11.5}, standoff:6}, tickfont:{family:FONT, size:11.5}},
  yaxis:{range:[-30,30], tickvals:valueTicks, ticks:'inside', ticklen:6, tickcolor:'#000',
         showline:true, linecolor:'#000', linewidth:1, mirror:'allticks', showgrid:false, zeroline:false,
         title:{text:'Cumulative (Z*Z)-1', font:{family:FONT, size:11.5}, standoff:8}, tickfont:{family:FONT, size:11.5}}
};
Plotly.newPlot('chart', traces, layout, {staticPlot:true, displayModeBar:false});
</script></body></html>
